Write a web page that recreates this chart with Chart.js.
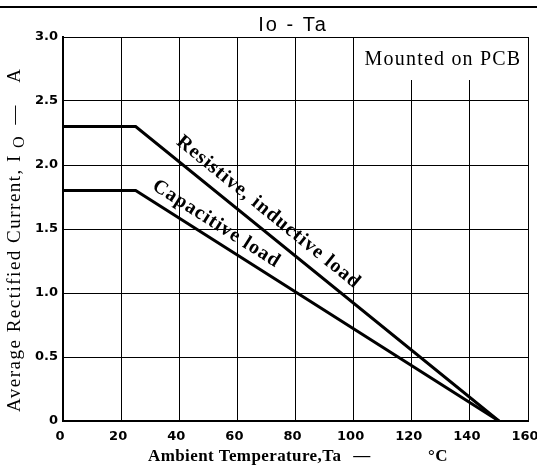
<!DOCTYPE html>
<html>
<head>
<meta charset="utf-8">
<script src="https://cdn.jsdelivr.net/npm/chart.js@4.4.0/dist/chart.umd.min.js"></script>
<style>
  html, body { margin: 0; padding: 0; background: #fff; }
  #wrap { width: 537px; height: 466px; position: relative; }
</style>
</head>
<body>
<div id="wrap"><canvas id="c" width="537" height="466"></canvas></div>
<script>
// ---- data ----
const temperatures = [0, 25, 150];
const resistiveLoad = [2.3, 2.3, 0];
const capacitiveLoad = [1.8, 1.8, 0];
const xTicks = [0, 20, 40, 60, 80, 100, 120, 140, 160];
const yTicks = [0, 0.5, 1.0, 1.5, 2.0, 2.5, 3.0];
const chartTitle = 'Io - Ta';
const boxLabel = 'Mounted on PCB';
const seriesLabels = ['Resistive, inductive load', 'Capacitive load'];
const xTitleParts = ['Ambient Temperature,Ta', '\u2014', '\u00B0C'];
const yTitleParts = ['Average Rectified Current, I', 'O', '\u2014', 'A'];

const tickFont = { family: 'DejaVu Sans', size: 13, weight: 'bold' };

function spaced(ctx, px) { if ('letterSpacing' in ctx) ctx.letterSpacing = px + 'px'; }

const decorations = {
  id: 'decorations',
  beforeDatasetsDraw(chart) {
    const { ctx, chartArea: ca, scales: { x } } = chart;
    ctx.save();
    const bx = x.getPixelForValue(100) + 1;
    ctx.fillStyle = '#fff';
    ctx.fillRect(bx, ca.top + 1, ca.right - bx - 1, 42);
    ctx.fillStyle = '#000';
    ctx.font = '20px "Liberation Serif"';
    spaced(ctx, 1.2);
    ctx.textAlign = 'center';
    ctx.textBaseline = 'middle';
    ctx.fillText(boxLabel, 443, ca.top + 23);
    ctx.restore();
  },
  afterDraw(chart) {
    const { ctx, chartArea: ca, scales: { x, y } } = chart;
    ctx.save();
    ctx.fillStyle = '#000';
    ctx.fillRect(0, 6, chart.width, 2);
    // title
    ctx.font = '20px "Liberation Sans"';
    spaced(ctx, 2);
    ctx.textAlign = 'center';
    ctx.textBaseline = 'middle';
    ctx.fillText(chartTitle, 293, 25);
    // x title
    ctx.font = 'bold 17px "Liberation Serif"';
    spaced(ctx, 0.4);
    ctx.textAlign = 'left';
    ctx.textBaseline = 'alphabetic';
    ctx.fillText(xTitleParts[0], 148, 461);
    ctx.textAlign = 'center';
    ctx.fillText(xTitleParts[1], 362, 461);
    ctx.fillText(xTitleParts[2], 438, 461);
    // y title with subscript
    ctx.save();
    ctx.translate(14, 0);
    ctx.rotate(-Math.PI / 2);
    ctx.textAlign = 'left';
    ctx.font = '19px "Liberation Serif"';
    spaced(ctx, 1.5);
    ctx.fillText(yTitleParts[0], -412, 6);
    ctx.font = '16px "Liberation Serif"';
    spaced(ctx, 0);
    ctx.fillText(yTitleParts[1], -148, 10);
    ctx.font = '19px "Liberation Serif"';
    ctx.textAlign = 'center';
    ctx.fillText(yTitleParts[2], -115, 6);
    ctx.fillText(yTitleParts[3], -76, 6);
    ctx.restore();
    // series labels along the lines
    const drawAlong = (text, ds, xv, off) => {
      const px0 = x.getPixelForValue(temperatures[1]), py0 = y.getPixelForValue(ds[1]);
      const px1 = x.getPixelForValue(temperatures[2]), py1 = y.getPixelForValue(ds[2]);
      const ang = Math.atan2(py1 - py0, px1 - px0);
      const t = (xv - temperatures[1]) / (temperatures[2] - temperatures[1]);
      const cx = px0 + (px1 - px0) * t, cy = py0 + (py1 - py0) * t;
      ctx.save();
      ctx.translate(cx + Math.sin(ang) * off, cy - Math.cos(ang) * off);
      ctx.rotate(ang);
      ctx.font = 'bold 20px "Liberation Serif"';
      spaced(ctx, 1);
      ctx.textAlign = 'center';
      ctx.textBaseline = 'middle';
      ctx.fillText(text, 0, 0);
      ctx.restore();
    };
    drawAlong(seriesLabels[0], resistiveLoad, 67, 17);
    drawAlong(seriesLabels[1], capacitiveLoad, 50, 15);
    ctx.restore();
  }
};

new Chart(document.getElementById('c'), {
  type: 'line',
  data: {
    datasets: [
      { label: seriesLabels[0], data: temperatures.map((t, i) => ({ x: t, y: resistiveLoad[i] })),
        borderColor: '#000', borderWidth: 3, pointRadius: 0, tension: 0, fill: false },
      { label: seriesLabels[1], data: temperatures.map((t, i) => ({ x: t, y: capacitiveLoad[i] })),
        borderColor: '#000', borderWidth: 3, pointRadius: 0, tension: 0, fill: false }
    ]
  },
  options: {
    responsive: false,
    animation: false,
    devicePixelRatio: 1,
    layout: { padding: { top: 37, right: 9, left: 0, bottom: 0 } },
    plugins: { legend: { display: false }, title: { display: false }, tooltip: { enabled: false } },
    scales: {
      x: {
        type: 'linear', min: 0, max: 160,
        afterBuildTicks: s => { s.ticks = xTicks.map(v => ({ value: v })); },
        afterFit: s => { s.height = 45; s.paddingLeft = 0; s.paddingRight = 0; },
        ticks: { font: tickFont, color: '#000', padding: 8, maxRotation: 0, labelOffset: -3 },
        grid: { color: '#000', lineWidth: 1, drawTicks: false },
        border: { color: '#000', width: 2 }
      },
      y: {
        type: 'linear', min: 0, max: 3,
        afterBuildTicks: s => { s.ticks = yTicks.map(v => ({ value: v })); },
        afterFit: s => { s.width = 63; s.paddingTop = 0; s.paddingBottom = 0; },
        ticks: { font: tickFont, color: '#000', padding: 5, callback: v => v === 0 ? '0' : v.toFixed(1) },
        grid: { color: '#000', lineWidth: 1, drawTicks: false },
        border: { color: '#000', width: 2 }
      }
    }
  },
  plugins: [decorations]
});
</script>
</body>
</html>
